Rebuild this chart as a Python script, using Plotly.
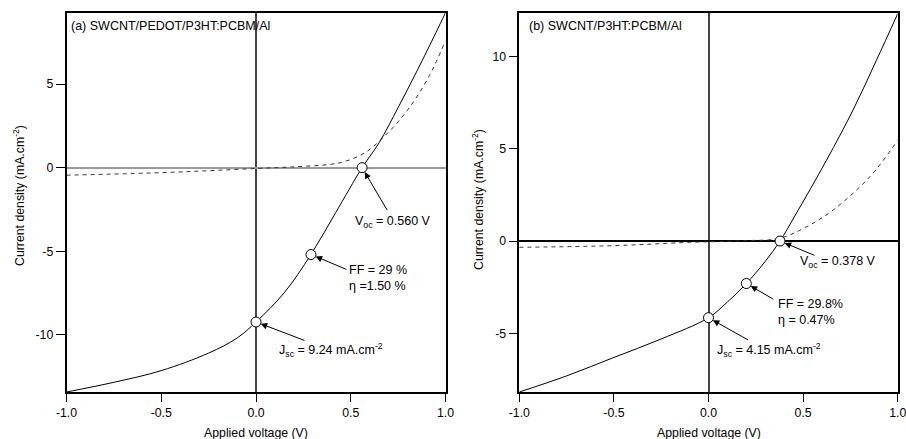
import plotly.graph_objects as go

# ---------------- data ----------------
# Panel (a) SWCNT/PEDOT/P3HT:PCBM/Al
a_light_v = [-1.0, -0.75, -0.5, -0.25, -0.1, 0.0, 0.148, 0.29, 0.42, 0.56, 0.65, 0.75, 0.85, 0.95, 1.0]
a_light_j = [-13.43, -12.85, -12.15, -11.1, -10.2, -9.24, -7.5, -5.2, -2.7, 0.0, 1.5, 3.6, 5.8, 8.1, 9.28]
a_dark_v = [-1.0, -0.5, -0.25, 0.0, 0.2, 0.394, 0.465, 0.57, 0.676, 0.8, 0.912, 1.0]
a_dark_j = [-0.45, -0.3, -0.18, -0.05, 0.05, 0.2, 0.36, 0.86, 1.86, 3.45, 5.45, 7.6]
a_pts_v = [0.0, 0.29, 0.56]
a_pts_j = [-9.24, -5.2, 0.0]

# Panel (b) SWCNT/P3HT:PCBM/Al
b_light_v = [-1.0, -0.75, -0.5, -0.25, 0.0, 0.1, 0.2, 0.3, 0.378, 0.456, 0.624, 0.764, 0.888, 1.0]
b_light_j = [-8.17, -7.3, -6.3, -5.3, -4.15, -3.3, -2.3, -1.1, 0.0, 1.35, 4.38, 7.09, 9.79, 12.3]
b_dark_v = [-1.0, -0.5, -0.1, 0.2, 0.378, 0.518, 0.659, 0.853, 1.0]
b_dark_j = [-0.34, -0.25, -0.07, 0.02, 0.15, 0.77, 1.68, 3.48, 5.45]
b_pts_v = [0.0, 0.2, 0.378]
b_pts_j = [-4.15, -2.3, 0.0]

x_ticks = [-1.0, -0.5, 0.0, 0.5, 1.0]
x_ticklabels = ["-1.0", "-0.5", "0.0", "0.5", "1.0"]
a_yticks = [-10, -5, 0, 5]
a_yticklabels = ["-10", "-5", "0", "5"]
b_yticks = [-5, 0, 5, 10]
b_yticklabels = ["-5", "0", "5", "10"]

a_title = "(a) SWCNT/PEDOT/P3HT:PCBM/Al"
b_title = "(b) SWCNT/P3HT:PCBM/Al"
a_labels = ["J<sub>sc</sub> = 9.24 mA.cm<sup>-2</sup>", "FF = 29 %<br>η =1.50 %", "V<sub>oc</sub> = 0.560 V"]
b_labels = ["J<sub>sc</sub> = 4.15 mA.cm<sup>-2</sup>", "FF = 29.8%<br>η = 0.47%", "V<sub>oc</sub> = 0.378 V"]
x_title = "Applied voltage (V)"
y_title = "Current density (mA.cm<sup>-2</sup>)"

# ---------------- layout helpers ----------------
W, H = 906, 439
T, B = 13, 47
def px(x):
    return x / W
def py(y):
    return (H - B - y) / (H - T - B)

FONT = "Liberation Sans, Arial, Helvetica, sans-serif"
ANN_SIZE = 12.5
AX_SIZE = 12.3

fig = go.Figure()

for xa, ya, lv, lj, dv, dj, pv, pj in [
    ("x", "y", a_light_v, a_light_j, a_dark_v, a_dark_j, a_pts_v, a_pts_j),
    ("x2", "y2", b_light_v, b_light_j, b_dark_v, b_dark_j, b_pts_v, b_pts_j),
]:
    fig.add_trace(go.Scatter(x=dv, y=dj, mode="lines", xaxis=xa, yaxis=ya,
                             line=dict(color="#333333", width=1, dash="4px,4px", shape="spline"),
                             showlegend=False, hoverinfo="skip"))
    fig.add_trace(go.Scatter(x=lv, y=lj, mode="lines", xaxis=xa, yaxis=ya,
                             line=dict(color="black", width=1, shape="spline"),
                             showlegend=False, hoverinfo="skip"))
    fig.add_trace(go.Scatter(x=pv, y=pj, mode="markers", xaxis=xa, yaxis=ya,
                             marker=dict(symbol="circle", size=10, color="white",
                                         line=dict(color="black", width=1)),
                             showlegend=False, hoverinfo="skip"))

axis_common = dict(showgrid=False, showline=True, linecolor="black", linewidth=1.5,
                   mirror=True, ticks="outside", tickcolor="black", tickwidth=1,
                   tickfont=dict(family=FONT, size=AX_SIZE, color="black"), automargin=False,
                   ticklabeloverflow="allow")

fig.update_layout(
    width=W, height=H,
    margin=dict(l=0, r=0, t=T, b=B),
    paper_bgcolor="white", plot_bgcolor="white",
    xaxis=dict(domain=[px(66.5), px(445.5)], range=[-1, 1], tickvals=x_ticks,
               ticktext=x_ticklabels, ticklen=8, zeroline=True, zerolinecolor="#444444",
               zerolinewidth=2, anchor="y", **axis_common),
    yaxis=dict(domain=[0, 1], range=[-13.43, 9.26], tickvals=a_yticks,
               ticktext=a_yticklabels, ticklen=9,
               zeroline=True, zerolinecolor="#9a9a9a", zerolinewidth=2, anchor="x",
               **axis_common),
    xaxis2=dict(domain=[px(519.3), px(897.7)], range=[-1, 1], tickvals=x_ticks,
                ticktext=x_ticklabels, ticklen=8, zeroline=True, zerolinecolor="#444444",
                zerolinewidth=2, anchor="y2", **axis_common),
    yaxis2=dict(domain=[0, 1], range=[-8.17, 12.34], tickvals=b_yticks,
                ticktext=b_yticklabels, ticklen=9,
                zeroline=True, zerolinecolor="black", zerolinewidth=1.5, anchor="x2",
                **axis_common),
)

ann = []
# panel labels
ann.append(dict(text=a_title, x=px(69), y=py(26), xref="paper", yref="paper",
                xanchor="left", yanchor="middle", showarrow=False,
                font=dict(family=FONT, size=ANN_SIZE, color="black")))
ann.append(dict(text=b_title, x=px(527), y=py(26), xref="paper", yref="paper",
                xanchor="left", yanchor="middle", showarrow=False,
                font=dict(family=FONT, size=ANN_SIZE, color="black")))
# axis titles
for cx in (256, 708.5):
    ann.append(dict(text=x_title, x=px(cx), y=py(433), xref="paper", yref="paper",
                    xanchor="center", yanchor="middle", showarrow=False,
                    font=dict(family=FONT, size=AX_SIZE, color="black")))
for cx, cy in ((19, 196), (478, 200)):
    ann.append(dict(text=y_title, x=px(cx), y=py(cy), xref="paper", yref="paper",
                    xanchor="center", yanchor="middle", showarrow=False, textangle=-90,
                    font=dict(family=FONT, size=AX_SIZE, color="black")))

# point labels: (text left edge px, text center py)
a_text_pos = [(277, 350), (347, 278), (353, 222)]
b_text_pos = [(715, 350), (776, 312), (798, 262)]
a_arrow_off = [(50, 19), (37, 15.5), (26, 44)]
b_arrow_off = [(41, 23), (28.5, 16.5), (36, 15)]

for xa, ya, pv, pj, labels, tpos, aoff in [
    ("x", "y", a_pts_v, a_pts_j, a_labels, a_text_pos, a_arrow_off),
    ("x2", "y2", b_pts_v, b_pts_j, b_labels, b_text_pos, b_arrow_off),
]:
    for v, j, lab, (tx, ty), (ox, oy) in zip(pv, pj, labels, tpos, aoff):
        ann.append(dict(text=lab, x=px(tx), y=py(ty), xref="paper", yref="paper",
                        xanchor="left", yanchor="middle", align="left", showarrow=False,
                        font=dict(family=FONT, size=ANN_SIZE, color="black")))
        ann.append(dict(text="", x=v, y=j, xref=xa, yref=ya, showarrow=True,
                        ax=ox, ay=oy, arrowhead=2, arrowsize=1.3, arrowwidth=1,
                        arrowcolor="black", standoff=5))

fig.update_layout(annotations=ann)

fig.write_html("out.html", config={"displayModeBar": False},
               post_script="document.body.style.margin='0';document.body.style.padding='0';")
